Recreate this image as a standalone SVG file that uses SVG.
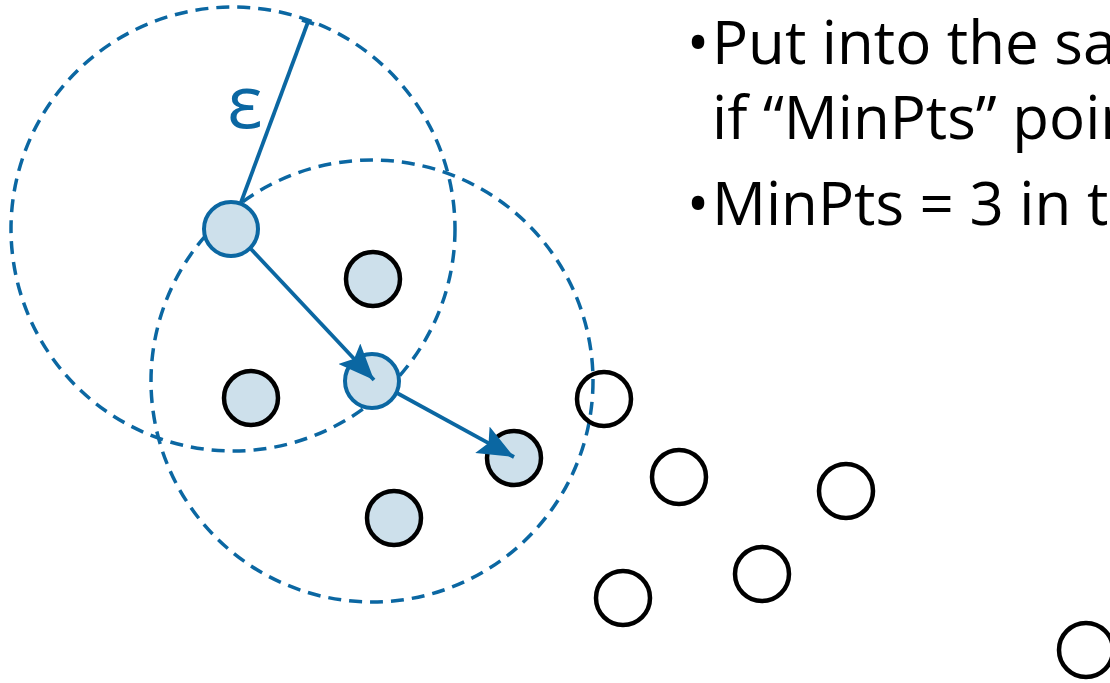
<svg xmlns="http://www.w3.org/2000/svg" width="1110" height="683" viewBox="0 0 1110 683">
<style>
.rng{fill:none;stroke:#0b67a2;stroke-width:3.5;stroke-dasharray:13 8}
.core{fill:#cde0eb;stroke:#0b67a2;stroke-width:4}
.bord{fill:#cde0eb;stroke:#000;stroke-width:4.5}
.noise{fill:none;stroke:#000;stroke-width:4.5}
.con{stroke:#0b67a2;stroke-width:3.8;fill:none}
.txt{font-family:"Open Sans","Noto Sans",sans-serif;font-size:60px;fill:#000}
</style>
<defs>
<marker id="ah2" viewBox="0 0 36 30" refX="36" refY="15" markerWidth="36" markerHeight="30" markerUnits="userSpaceOnUse" orient="auto">
<path d="M0,0 L36,15 L0,30 L7,15 z" fill="#0b67a2"/>
</marker>
</defs>
<g id="range1"><circle class="rng" cx="233" cy="229" r="222"/></g>
<g id="range2"><circle class="rng" cx="372" cy="381" r="221"/></g>
<g id="p1"><circle class="core" cx="231" cy="229" r="27"/></g>
<g id="p2"><circle class="bord" cx="373" cy="279" r="27"/></g>
<g id="p3"><circle class="core" cx="372" cy="381" r="27"/></g>
<g id="p4"><circle class="bord" cx="251" cy="398" r="27"/></g>
<g id="p5"><circle class="bord" cx="514" cy="458" r="27"/></g>
<g id="p6"><circle class="bord" cx="394" cy="518" r="27"/></g>
<g id="n1"><circle class="noise" cx="604" cy="399" r="27"/></g>
<g id="n2"><circle class="noise" cx="679" cy="477" r="27"/></g>
<g id="n3"><circle class="noise" cx="846" cy="491" r="27"/></g>
<g id="n4"><circle class="noise" cx="762" cy="574" r="27"/></g>
<g id="n5"><circle class="noise" cx="623" cy="598" r="27"/></g>
<g id="n6"><circle class="noise" cx="1086" cy="650" r="27"/></g>
<g id="connectors">
<line class="con" x1="240" y1="205" x2="308" y2="22"/>
<line class="con" x1="302" y1="20" x2="314" y2="24"/>
<line class="con" x1="250" y1="248" x2="374" y2="380" marker-end="url(#ah2)"/>
<line class="con" x1="397" y1="393" x2="514" y2="457" marker-end="url(#ah2)"/>
</g>
<g id="eps"><text x="245" y="128" text-anchor="middle" font-family="Open Sans,Noto Sans,sans-serif" font-size="74" fill="#0b67a2">ε</text></g>
<g id="bullets">
<text class="txt" x="698" y="64" text-anchor="middle">•</text>
<text class="txt" x="712" y="64">Put into the sa</text>
<text class="txt" x="712" y="139">if “MinPts” poin</text>
<text class="txt" x="698" y="225" text-anchor="middle">•</text>
<text class="txt" x="712" y="225">MinPts = 3 in t</text>
</g>
</svg>
